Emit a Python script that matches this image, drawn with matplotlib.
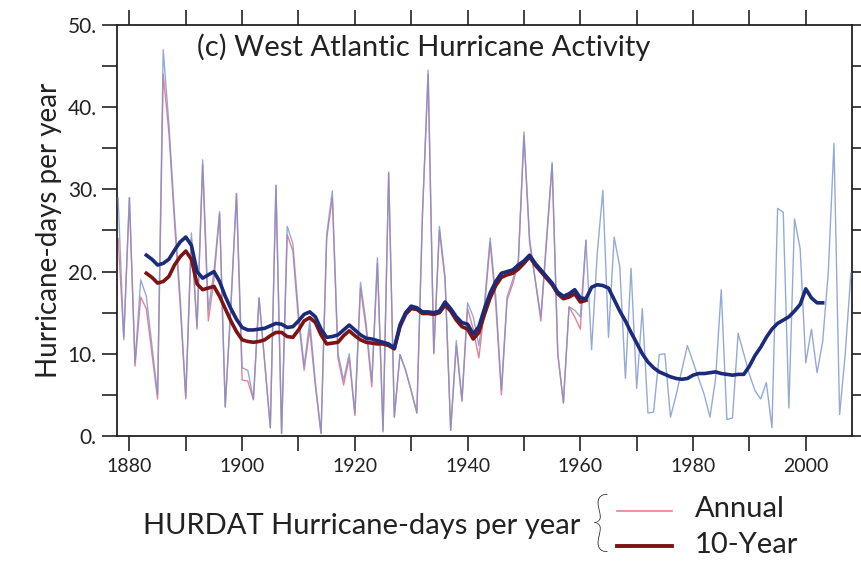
import matplotlib
matplotlib.use("Agg")
import matplotlib.pyplot as plt
from matplotlib.ticker import MultipleLocator, FixedLocator
from matplotlib.lines import Line2D

# ---------------- data ----------------
years = list(range(1878, 2009))
blue_annual = [
    29, 11.7, 29, 8.9, 19, 17, 11, 5, 47, 38,
    27, 17, 4.8, 24.7, 13.3, 33.6, 15.3, 20, 27.3, 3.6,
    16, 29.5, 8.3, 8, 4.5, 16.8, 9, 1, 30.5, 0.3,
    25.5, 23.4, 15, 8.5, 14, 6.5, 0.3, 24.5, 29.8, 10.1,
    6.8, 10, 2.8, 18.7, 13.7, 6.6, 21.7, 0.7, 32.1, 2.3,
    9.9, 8, 5.5, 2.8, 27.1, 44.5, 10.1, 25.5, 19.4, 0.7,
    11.6, 4.4, 16.2, 14.5, 11, 16.2, 24.1, 16.9, 5.6, 16.9,
    19, 21.4, 37, 24, 19, 14.5, 24, 33.3, 10, 4.1,
    15.7, 15.3, 14.5, 23.8, 10.5, 22.2, 29.9, 12, 24.2, 20.6,
    7, 20.4, 5.8, 15.5, 2.8, 2.9, 9.9, 10, 2.3, 5,
    8, 11, 9, 7, 5, 2.3, 7, 17.8, 2, 2.2,
    12.5, 10, 7.5, 5.5, 4.5, 6.5, 1, 27.7, 27.2, 3.4,
    26.4, 22.8, 8.9, 13, 7.7, 11.5, 20, 35.6, 2.6, 10,
    19.8,
]

red_years = list(range(1878, 1962))
red_annual = [
    24, 12, 29, 8.5, 16.9, 15.5, 10, 4.5, 44, 37,
    26, 16, 4.5, 24, 13, 33, 14, 19, 27, 3.5,
    15.5, 29.5, 6.8, 6.7, 4.4, 16.8, 9, 1, 30.5, 0.3,
    24.5, 22.5, 14, 8, 13, 6, 0.3, 24, 29, 9.5,
    6.2, 9.5, 2.5, 18, 13, 6, 21, 0.5, 32, 2.3,
    9.9, 8, 5.5, 2.8, 27, 44, 10, 25, 19, 0.7,
    11, 4.2, 15.5, 13, 9.5, 15.5, 23.5, 16, 5, 16.5,
    18.5, 21, 36.5, 23.5, 19, 14, 23.5, 33, 10, 4,
    15.7, 14.5, 13, 23.8,
]

blue_10yr_years = list(range(1883, 2004))
blue_10yr = [
    22.0, 21.5, 20.8, 21.0, 21.5, 22.6, 23.6, 24.2, 23.2, 20.0,
    19.2, 19.6, 20.0, 18.8, 17.0, 15.5, 14.2, 13.2, 12.9, 12.9,
    13.0, 13.1, 13.4, 13.7, 13.6, 13.2, 13.3, 14.0, 14.8, 15.1,
    14.5, 13.0, 12.0, 12.1, 12.3, 12.9, 13.5, 12.9, 12.3, 11.9,
    11.8, 11.6, 11.4, 11.2, 10.7, 13.5, 15.0, 15.8, 15.6, 15.1,
    15.1, 15.0, 15.2, 16.3, 15.5, 14.5, 13.8, 13.6, 12.4, 13.3,
    15.5, 17.4, 18.8, 19.8, 20.0, 20.2, 20.8, 21.3, 22.0, 21.0,
    20.2, 19.4, 18.6, 17.5, 17.0, 17.3, 17.8, 16.8, 16.7, 18.1,
    18.4, 18.3, 18.0, 16.6, 15.2, 14.0, 12.6, 11.3, 10.0, 9.0,
    8.3, 7.8, 7.5, 7.2, 7.0, 6.9, 7.0, 7.4, 7.6, 7.6,
    7.7, 7.8, 7.6, 7.5, 7.4, 7.5, 7.5, 8.5, 9.8, 10.8,
    12.0, 13.0, 13.7, 14.1, 14.5, 15.2, 16.0, 17.9, 16.8, 16.2,
    16.2,
]

red_10yr_years = list(range(1883, 1962))
red_10yr = [
    19.8, 19.3, 18.6, 18.8, 19.4, 20.8, 21.8, 22.5, 21.5, 18.5,
    17.8, 18.0, 18.2, 17.0, 15.5, 14.0, 12.7, 11.7, 11.5, 11.4,
    11.5, 11.7, 12.2, 12.6, 12.6, 12.1, 12.0, 12.9, 14.0, 14.4,
    13.8, 12.3, 11.2, 11.3, 11.4, 12.2, 12.8, 12.2, 11.7, 11.4,
    11.3, 11.2, 11.2, 11.0, 10.6, 13.3, 14.8, 15.5, 15.4, 14.9,
    14.9, 14.8, 15.0, 15.9, 15.2, 14.1, 13.3, 13.0, 11.8, 12.6,
    14.8, 16.8, 18.3, 19.3, 19.6, 19.8, 20.3, 21.0, 21.8, 20.8,
    20.0, 19.2, 18.4, 17.3, 16.7, 16.9, 17.3, 16.3, 16.5,
]

x_tick_labels = ["1880", "1900", "1920", "1940", "1960", "1980", "2000"]
y_tick_labels = ["0.", "10.", "20.", "30.", "40.", "50."]
title_text = "(c) West Atlantic Hurricane Activity"
ylabel_text = "Hurricane-days per year"
legend_title = "HURDAT Hurricane-days per year"
legend_labels = ["Annual", "10-Year"]

# ---------------- styling ----------------
PINK = "#ee7f93"
LIGHTBLUE = "#7895cf"
DARKRED = "#7d1414"
NAVY = "#1c2a7a"

main_font = ["Lato", "DejaVu Sans"]

fig = plt.figure(figsize=(8.61, 5.61), dpi=100)
ax = fig.add_axes([117 / 861, 1 - 436 / 561, (852 - 117) / 861, (436 - 25) / 561])

ax.plot(red_years, red_annual, color=PINK, lw=1.0, zorder=2)
ax.plot(years, blue_annual, color=LIGHTBLUE, lw=1.0, alpha=0.8, zorder=3)
ax.plot(red_10yr_years, red_10yr, color=DARKRED, lw=2.6, zorder=4)
ax.plot(blue_10yr_years, blue_10yr, color=NAVY, lw=2.6, zorder=5)

ax.set_xlim(1877.8, 2008.2)
ax.set_ylim(0, 50)

ax.xaxis.set_major_locator(FixedLocator([1880, 1900, 1920, 1940, 1960, 1980, 2000]))
ax.set_xticklabels(x_tick_labels, fontsize=14, family=main_font)
ax.xaxis.set_minor_locator(MultipleLocator(10))
ax.yaxis.set_major_locator(FixedLocator([0, 10, 20, 30, 40, 50]))
ax.set_yticklabels(y_tick_labels, fontsize=15, family=main_font)
ax.yaxis.set_minor_locator(MultipleLocator(5))

ax.tick_params(which="both", direction="out", length=10.5, width=1.2,
               top=True, right=True, labeltop=False, labelright=False,
               colors="#222222")
ax.tick_params(axis="x", which="major", pad=5)
ax.tick_params(axis="y", which="major", pad=4)
for s in ax.spines.values():
    s.set_linewidth(1.3)
    s.set_color("#222222")

ax.text(0.109, 0.945, title_text, transform=ax.transAxes, fontsize=21,
        family=main_font, color="#222222", ha="left", va="center")
ax.set_ylabel(ylabel_text, fontsize=20, family=main_font, color="#222222",
              labelpad=4)

# ---------------- bottom legend ----------------
fig.text(143 / 861, 1 - 526 / 561, legend_title, fontsize=21, family=main_font,
         color="#222222", ha="left", va="center")
fig.text(601 / 861, 1 - 526 / 561, "{", fontsize=48, family=main_font,
         color="#222222", ha="center", va="center", fontweight="light")
fig.add_artist(Line2D([617 / 861, 672 / 861], [1 - 511 / 561, 1 - 511 / 561],
                      transform=fig.transFigure, color=PINK, lw=1.2))
fig.add_artist(Line2D([617 / 861, 672 / 861], [1 - 546 / 561, 1 - 546 / 561],
                      transform=fig.transFigure, color=DARKRED, lw=2.8))
fig.text(695 / 861, 1 - 509 / 561, legend_labels[0], fontsize=21, family=main_font,
         color="#222222", ha="left", va="center")
fig.text(695 / 861, 1 - 545 / 561, legend_labels[1], fontsize=21, family=main_font,
         color="#222222", ha="left", va="center")

fig.savefig("out.png", dpi=100)
